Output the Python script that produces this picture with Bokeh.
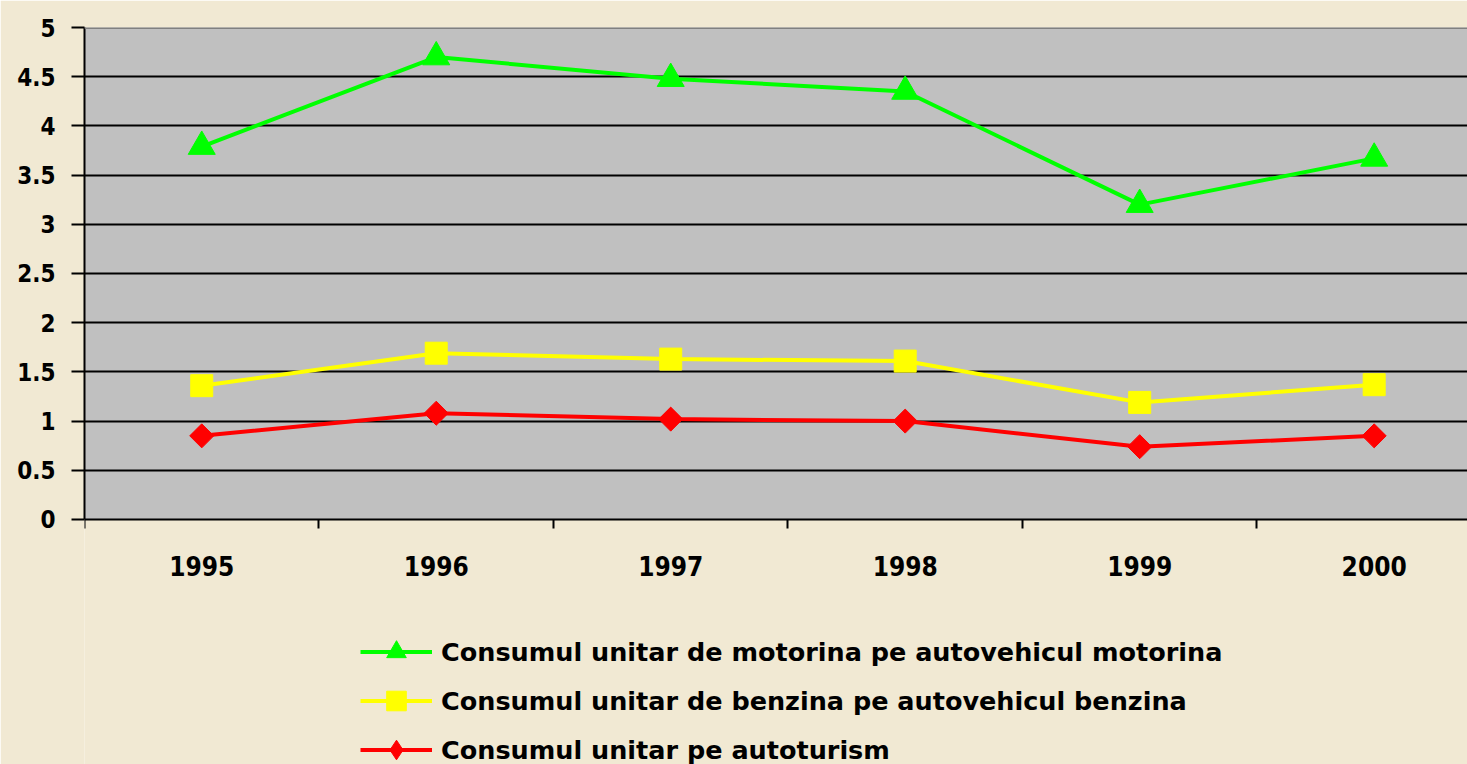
from math import pi
from bokeh.plotting import figure
from bokeh.models import Range1d, FixedTicker, Legend, LegendItem, Span, BoxAnnotation
from bokeh.embed import file_html
from bokeh.resources import INLINE

years = ["1995", "1996", "1997", "1998", "1999", "2000"]
motorina = [3.79, 4.70, 4.48, 4.35, 3.20, 3.67]
benzina = [1.36, 1.69, 1.63, 1.61, 1.19, 1.37]
autoturism = [0.85, 1.08, 1.02, 1.00, 0.74, 0.85]
y_ticks = [0, 0.5, 1, 1.5, 2, 2.5, 3, 3.5, 4, 4.5, 5]
y_labels = ["0", "0.5", "1", "1.5", "2", "2.5", "3", "3.5", "4", "4.5", "5"]
names = [
    "Consumul unitar de motorina pe autovehicul motorina",
    "Consumul unitar de benzina pe autovehicul benzina",
    "Consumul unitar pe autoturism",
]

FONT = "DejaVu Sans Condensed"
LEG_FONT = "DejaVu Sans"
BG = "#F1E9D3"

x = [i + 0.5 for i in range(len(years))]

# frame runs from y=27 down to the page bottom; value 0 sits at y=519
p = figure(
    width=1467, height=764,
    frame_width=1383, frame_height=737,
    x_range=Range1d(0, 5.898), y_range=Range1d(-2.49, 5),
    output_backend="svg", toolbar_location=None,
    min_border_left=84, min_border_right=0, min_border_top=27, min_border_bottom=0,
)
p.background_fill_color = BG
p.border_fill_color = BG
p.outline_line_color = None

# grey plotting area (values 0..5)
p.add_layout(BoxAnnotation(bottom=0, top=5, fill_color="#C0C0C0", fill_alpha=1,
                           line_color=None, level="image"))

# axes
p.yaxis.bounds = (0, 5)
p.yaxis.ticker = FixedTicker(ticks=y_ticks)
p.yaxis.major_label_overrides = {t: l for t, l in zip(y_ticks, y_labels)}
p.yaxis.major_tick_out = 13
p.yaxis.major_tick_in = 0
p.yaxis.major_tick_line_width = 2
p.yaxis.major_tick_line_color = "black"
p.yaxis.minor_tick_line_color = None
p.yaxis.axis_line_width = 2
p.yaxis.axis_line_color = "black"
p.yaxis.major_label_standoff = 16
p.yaxis.major_label_text_font = FONT
p.yaxis.major_label_text_font_style = "bold"
p.yaxis.major_label_text_font_size = "24px"
p.yaxis.major_label_text_color = "black"

p.xaxis.fixed_location = 0
p.xaxis.ticker = FixedTicker(ticks=x, minor_ticks=[0, 1, 2, 3, 4, 5])
p.xaxis.major_label_overrides = {xv: y for xv, y in zip(x, years)}
p.xaxis.major_tick_line_color = None
p.xaxis.major_tick_out = 0
p.xaxis.major_tick_in = 0
p.xaxis.minor_tick_out = 9
p.xaxis.minor_tick_in = 0
p.xaxis.minor_tick_line_width = 2
p.xaxis.minor_tick_line_color = "black"
p.xaxis.axis_line_width = 2
p.xaxis.axis_line_color = "black"
p.xaxis.major_label_standoff = 28
p.xaxis.major_label_text_font = FONT
p.xaxis.major_label_text_font_style = "bold"
p.xaxis.major_label_text_font_size = "26px"
p.xaxis.major_label_text_color = "black"

p.xgrid.visible = False
p.ygrid.ticker = FixedTicker(ticks=[0.5, 1, 1.5, 2, 2.5, 3, 3.5, 4, 4.5])
p.ygrid.grid_line_color = "black"
p.ygrid.grid_line_width = 2

p.add_layout(Span(location=5, dimension="width", line_color="#808080", line_width=3))

# series
l1 = p.line(x, motorina, line_color="#00FF00", line_width=4)
s1 = p.scatter(x, motorina, marker="triangle", size=27, fill_color="#00FF00", line_color="#00FF00")
l2 = p.line(x, benzina, line_color="#FFFF00", line_width=4)
s2 = p.scatter(x, benzina, marker="square", size=22, fill_color="#FFFF00", line_color="#FFFF00")
l3 = p.line(x, autoturism, line_color="#FF0000", line_width=4)
s3 = p.scatter(x, autoturism, marker="square", size=17, angle=pi / 4,
               fill_color="#FF0000", line_color="#FF0000")
# hidden diamond renderer used only for the legend swatch
s3_leg = p.scatter(x, autoturism, marker="diamond", fill_color="#FF0000",
                   line_color="#FF0000", visible=False)

legend = Legend(
    items=[
        LegendItem(label=names[0], renderers=[l1, s1]),
        LegendItem(label=names[1], renderers=[l2, s2]),
        LegendItem(label=names[2], renderers=[l3, s3_leg]),
    ],
    location=(276, -10),
)
legend.background_fill_alpha = 0
legend.border_line_color = None
legend.padding = 0
legend.margin = 0
legend.spacing = 0
legend.glyph_width = 72
legend.glyph_height = 49
legend.label_height = 49
legend.label_standoff = 9
legend.label_text_font = LEG_FONT
legend.label_text_font_style = "bold"
legend.label_text_font_size = "25.5px"
legend.label_text_color = "black"
p.add_layout(legend)

open("out.html", "w").write(file_html(p, INLINE))
